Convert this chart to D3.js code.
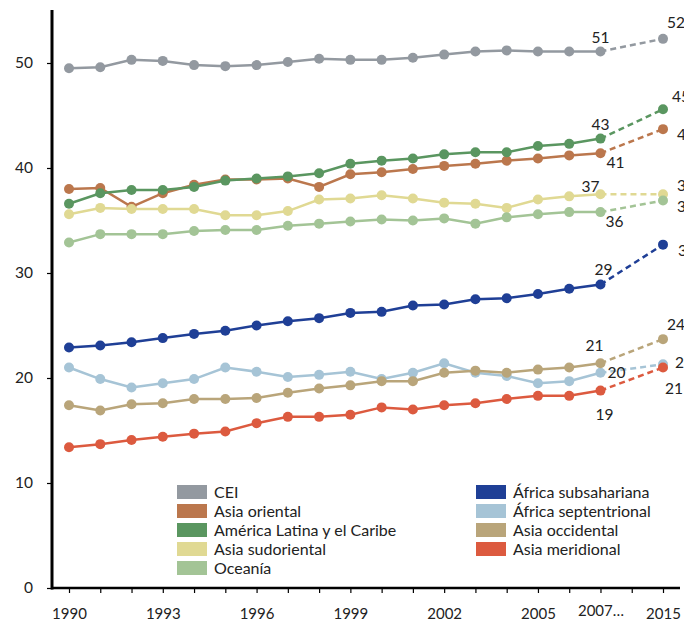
<!DOCTYPE html>
<html><head><meta charset="utf-8">
<script src="https://cdn.jsdelivr.net/npm/d3@7"></script>
<style>
html,body{margin:0;padding:0;background:#fff;}
svg{display:block;font-family:Lato,"Noto Sans",sans-serif;}
</style></head>
<body><svg id="c" width="684" height="629"></svg>
<script>
// ---- data ----
const years = ["1990","1991","1992","1993","1994","1995","1996","1997","1998","1999","2000","2001","2002","2003","2004","2005","2006","2007","gap","2015"];
const tickLabels = {"1990":"1990","1993":"1993","1996":"1996","1999":"1999","2002":"2002","2005":"2005","2007":"2007…","2015":"2015"};
const pointYears = ["1990","1991","1992","1993","1994","1995","1996","1997","1998","1999","2000","2001","2002","2003","2004","2005","2006","2007","2015"];

const seriesNames = ["CEI","Asia oriental","América Latina y el Caribe","Asia sudoriental","Oceanía","África subsahariana","África septentrional","Asia occidental","Asia meridional"];
const CEI        = [49.5,49.6,50.3,50.2,49.8,49.7,49.8,50.1,50.4,50.3,50.3,50.5,50.8,51.1,51.2,51.1,51.1,51.1,52.3];
const asiaOr     = [38.0,38.1,36.3,37.6,38.4,38.9,38.9,39.0,38.2,39.4,39.6,39.9,40.2,40.4,40.7,40.9,41.2,41.4,43.7];
const alc        = [36.6,37.6,37.9,37.9,38.2,38.8,39.0,39.2,39.5,40.4,40.7,40.9,41.3,41.5,41.5,42.1,42.3,42.8,45.6];
const asiaSud    = [35.6,36.2,36.1,36.1,36.1,35.5,35.5,35.9,37.0,37.1,37.4,37.1,36.7,36.6,36.2,37.0,37.3,37.5,37.5];
const oceania    = [32.9,33.7,33.7,33.7,34.0,34.1,34.1,34.5,34.7,34.9,35.1,35.0,35.2,34.7,35.3,35.6,35.8,35.8,36.9];
const afrSub     = [22.9,23.1,23.4,23.8,24.2,24.5,25.0,25.4,25.7,26.2,26.3,26.9,27.0,27.5,27.6,28.0,28.5,28.9,32.7];
const afrSep     = [21.0,19.9,19.1,19.5,19.9,21.0,20.6,20.1,20.3,20.6,19.9,20.5,21.4,20.5,20.2,19.5,19.7,20.5,21.3];
const asiaOcc    = [17.4,16.9,17.5,17.6,18.0,18.0,18.1,18.6,19.0,19.3,19.7,19.7,20.5,20.7,20.5,20.8,21.0,21.4,23.7];
const asiaMer    = [13.4,13.7,14.1,14.4,14.7,14.9,15.7,16.3,16.3,16.5,17.2,17.0,17.4,17.6,18.0,18.3,18.3,18.8,21.0];
const seriesValues = [CEI, asiaOr, alc, asiaSud, oceania, afrSub, afrSep, asiaOcc, asiaMer];
const labels2007 = ["51","41","43","37","36","29","20","21","19"];
const labels2015 = ["52","44","45","37","37","33","21","24","21"];
const yTicks = [0,10,20,30,40,50];

// ---- styles ----
const colors = ["#9399a0","#bb774d","#5a9660","#e0d993","#a3c496","#1f3f96","#a6c4d6","#b9a57a","#dc5a3f"];
// label offsets relative to points [dx, dy, anchor]
const off2007 = [[0,-8,"middle"],[15,15,"middle"],[0,-9,"middle"],[-10,-2,"middle"],[14,15,"middle"],[3,-10,"middle"],[16,5,"middle"],[-6,-12,"middle"],[4,29,"middle"]];
const off2015 = [[4,-11,"start"],[14,11,"start"],[9,-7,"start"],[14,-3,"start"],[14,11,"start"],[15,11,"start"],[12,4,"start"],[4,-9,"start"],[2,26,"start"]];

const svg = d3.select("#c");
const x = d3.scalePoint().domain(years).range([69,663]);
const y = d3.scaleLinear().domain([0,55]).range([588,10.5]);

// axes
const xAxis = d3.axisBottom(x).tickSize(5).tickFormat(d => tickLabels[d] || "");
const gx = svg.append("g").attr("transform","translate(0,588)").call(xAxis);
gx.select(".domain").remove();
gx.selectAll(".tick line").attr("stroke","#000").attr("stroke-width",1.2);
gx.selectAll(".tick text").attr("y",31).attr("dy",0).attr("font-size",15).attr("fill","#222")
  .attr("font-family","Lato,'Noto Sans',sans-serif")
  .filter(d => d==="2007").attr("y",28);
svg.append("line").attr("x1",51).attr("x2",680).attr("y1",588).attr("y2",588).attr("stroke","#000").attr("stroke-width",2.5);

const yAxis = d3.axisLeft(y).tickValues(yTicks).tickSize(5).tickPadding(14);
const gy = svg.append("g").attr("transform","translate(52,0)").call(yAxis);
gy.select(".domain").remove();
gy.selectAll(".tick line").attr("stroke","#000").attr("stroke-width",1.2);
gy.selectAll(".tick text").attr("font-size",15.5).attr("fill","#222").attr("font-family","Lato,'Noto Sans',sans-serif");
svg.append("line").attr("x1",52).attr("x2",52).attr("y1",10).attr("y2",589.5).attr("stroke","#000").attr("stroke-width",3);

// series
const line = d3.line().x(d => x(d[0])).y(d => y(d[1]));
seriesValues.forEach((vals, i) => {
  const pts = pointYears.map((yr, j) => [yr, vals[j]]);
  const solid = pts.slice(0, 18);
  const dashed = pts.slice(17);
  const g = svg.append("g");
  g.append("path").attr("d", line(solid)).attr("fill","none").attr("stroke",colors[i]).attr("stroke-width",2.5);
  g.append("path").attr("d", line(dashed)).attr("fill","none").attr("stroke",colors[i]).attr("stroke-width",2.5).attr("stroke-dasharray","6,4");
  g.selectAll("circle").data(pts).enter().append("circle")
    .attr("cx", d => x(d[0])).attr("cy", d => y(d[1])).attr("r",5).attr("fill",colors[i]);
  const p7 = pts[17], p15 = pts[18];
  g.append("text").attr("x", x(p7[0]) + off2007[i][0]).attr("y", y(p7[1]) + off2007[i][1])
    .attr("text-anchor", off2007[i][2]).attr("font-size",15.5).attr("fill","#222").text(labels2007[i]);
  g.append("text").attr("x", x(p15[0]) + off2015[i][0]).attr("y", y(p15[1]) + off2015[i][1])
    .attr("text-anchor", off2015[i][2]).attr("font-size",15.5).attr("fill","#222").text(labels2015[i]);
});

// legend
const legLeft = [0,1,2,3,4], legRight = [5,6,7,8];
function legend(idx, x0) {
  idx.forEach((si, k) => {
    const yy = 485 + k*19;
    svg.append("rect").attr("x",x0).attr("y",yy).attr("width",30).attr("height",14).attr("fill",colors[si]);
    svg.append("text").attr("x",x0+37).attr("y",yy+12.5).attr("font-size",16).attr("fill","#222").text(seriesNames[si]);
  });
}
legend(legLeft, 177);
legend(legRight, 476);
</script></body></html>
